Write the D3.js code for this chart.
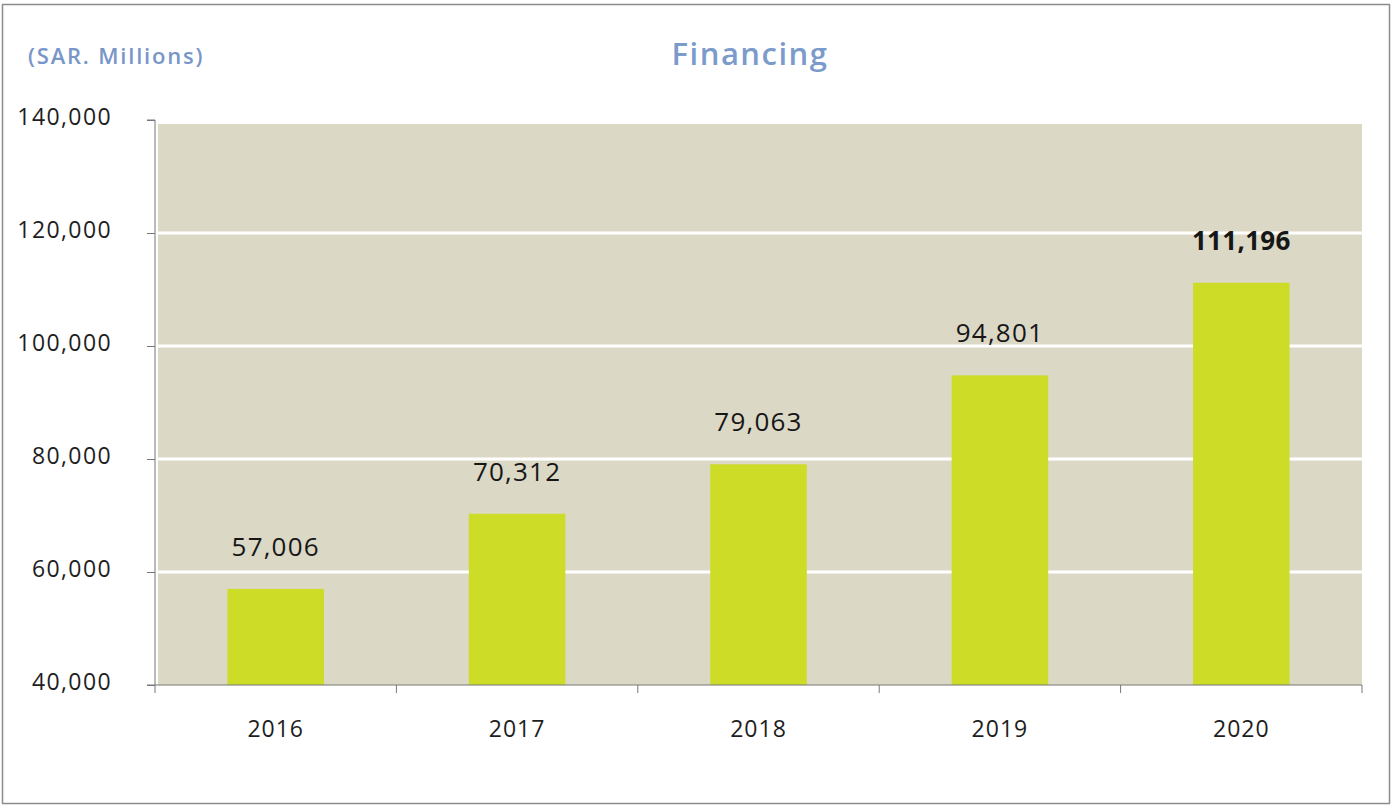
<!DOCTYPE html>
<html>
<head>
<meta charset="utf-8">
<script src="https://cdn.jsdelivr.net/npm/d3@7"></script>
<style>
  html, body { margin: 0; padding: 0; background: #ffffff; }
  svg { display: block; font-family: "Open Sans", "DejaVu Sans", sans-serif; }
</style>
</head>
<body>
<svg id="chart" width="1392" height="808"></svg>
<script>
// Financing, SAR millions, by year
const years = ["2016", "2017", "2018", "2019", "2020"];
const financing = [57006, 70312, 79063, 94801, 111196];
const yTicks = [40000, 60000, 80000, 100000, 120000, 140000];

const svg = d3.select("#chart");
const W = 1392, H = 808;
const margin = { left: 155, right: 30, top: 120, bottom: 123 };
const x0 = margin.left, x1 = W - margin.right;
const yTop = margin.top, yBot = H - margin.bottom;

// outer frame
svg.append("rect")
  .attr("x", 2.5).attr("y", 4.5).attr("width", W - 5).attr("height", H - 9)
  .attr("fill", "#ffffff").attr("stroke", "#8c8c8c").attr("stroke-width", 1.5);

const x = d3.scaleBand().domain(years).range([x0, x1]).paddingInner(0.6).paddingOuter(0.3);
const y = d3.scaleLinear().domain([40000, 140000]).range([yBot, yTop]);

// plot background
svg.append("rect")
  .attr("x", x0 + 3).attr("y", y(140000) + 4)
  .attr("width", x1 - x0 - 3).attr("height", yBot - y(140000) - 4)
  .attr("fill", "#dcd8c6");

// horizontal gridlines
svg.append("g")
  .selectAll("line")
  .data(yTicks.filter(t => t > 40000 && t < 140000))
  .join("line")
  .attr("x1", x0 + 3).attr("x2", x1)
  .attr("y1", d => y(d)).attr("y2", d => y(d))
  .attr("stroke", "#ffffff").attr("stroke-width", 3);

// bars
svg.append("g")
  .selectAll("rect")
  .data(years.map((yr, i) => ({ yr, v: financing[i] })))
  .join("rect")
  .attr("x", d => x(d.yr))
  .attr("width", x.bandwidth())
  .attr("y", d => y(d.v))
  .attr("height", d => yBot - y(d.v))
  .attr("fill", "#cddc26");

// value labels
svg.append("g")
  .selectAll("text")
  .data(years.map((yr, i) => ({ yr, v: financing[i], i })))
  .join("text")
  .attr("x", d => x(d.yr) + x.bandwidth() / 2)
  .attr("y", d => y(d.v) - 33)
  .attr("text-anchor", "middle")
  .attr("font-size", 26)
  .attr("letter-spacing", d => d.i === years.length - 1 ? 0.3 : 1.2)
  .attr("font-weight", d => d.i === years.length - 1 ? "bold" : "normal")
  .attr("fill", "#161616")
  .text(d => d3.format(",")(d.v));

// y axis
const yAxis = d3.axisLeft(y).tickValues(yTicks).tickFormat(d3.format(",")).tickSize(8).tickPadding(35);
const gy = svg.append("g").attr("transform", `translate(${x0},0)`).call(yAxis);
gy.select(".domain").attr("stroke", "#777").attr("d", `M-8,${yTop}H0V${yBot}H-8`);
gy.selectAll(".tick line").attr("stroke", "#777");
gy.selectAll(".tick text").attr("font-size", 23).attr("fill", "#1e1e1e")
  .attr("letter-spacing", 1.4).attr("dy", "0.18em")
  .attr("font-family", "\"Open Sans\", sans-serif");

// x axis with boundary ticks between categories
const xAxisG = svg.append("g").attr("transform", `translate(0,${yBot})`);
xAxisG.append("line").attr("x1", x0).attr("x2", x1).attr("y1", 0).attr("y2", 0)
  .attr("stroke", "#777").attr("stroke-width", 1.2);
const bounds = d3.range(years.length + 1).map(i => x0 + i * (x1 - x0) / years.length);
xAxisG.selectAll("line.b").data(bounds).join("line").attr("class", "b")
  .attr("x1", d => d).attr("x2", d => d).attr("y1", 0).attr("y2", 8)
  .attr("stroke", "#777");
xAxisG.selectAll("text").data(years).join("text")
  .attr("x", d => x(d) + x.bandwidth() / 2)
  .attr("y", 52)
  .attr("text-anchor", "middle")
  .attr("font-size", 23).attr("letter-spacing", 1).attr("fill", "#1e1e1e")
  .text(d => d);

// titles
svg.append("text").attr("x", 28).attr("y", 64)
  .attr("font-size", 22).attr("letter-spacing", 1.8).attr("font-weight", "600").attr("fill", "#7896c8")
  .text("(SAR. Millions)");
svg.append("text").attr("x", 750).attr("y", 65).attr("text-anchor", "middle")
  .attr("font-size", 31).attr("letter-spacing", 1.5).attr("fill", "#7b9bcb").attr("font-weight", "600")
  .text("Financing");
</script>
</body>
</html>
